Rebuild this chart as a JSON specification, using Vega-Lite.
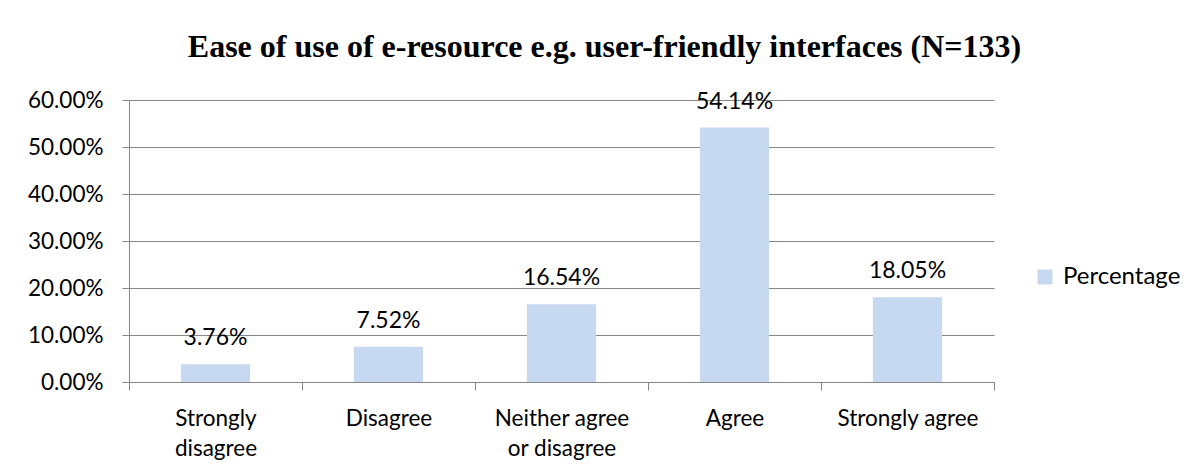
{
  "$schema": "https://vega.github.io/schema/vega-lite/v6.json",
  "autosize": {"type": "none"},
  "padding": {"left": 129, "top": 100, "right": 209, "bottom": 93},
  "width": 865,
  "height": 282,
  "background": "white",
  "title": {
    "text": "Ease of use of e-resource e.g. user-friendly interfaces (N=133)",
    "font": "Liberation Serif",
    "fontSize": 32,
    "fontWeight": "bold",
    "color": "black",
    "anchor": "middle",
    "baseline": "alphabetic",
    "offset": 0,
    "dx": 43
  },
  "data": {
    "values": [
      {"category": "Strongly disagree", "value": 0.0376},
      {"category": "Disagree", "value": 0.0752},
      {"category": "Neither agree or disagree", "value": 0.1654},
      {"category": "Agree", "value": 0.5414},
      {"category": "Strongly agree", "value": 0.1805}
    ]
  },
  "encoding": {
    "x": {
      "field": "category",
      "type": "nominal",
      "sort": null,
      "scale": {"paddingInner": 0, "paddingOuter": 0},
      "axis": {
        "title": null,
        "labelAngle": 0,
        "tickBand": "extent",
        "labelExpr": "datum.label == 'Strongly disagree' ? ['Strongly', 'disagree'] : datum.label == 'Neither agree or disagree' ? ['Neither agree', 'or disagree'] : datum.label",
        "labelFont": "Lato",
        "labelFontSize": 22.5,
        "labelColor": "black",
        "labelLineHeight": 30,
        "labelPadding": 17,
        "tickSize": 8,
        "tickColor": "#868686",
        "domainColor": "#868686",
        "labelLimit": 300
      }
    },
    "y": {
      "field": "value",
      "type": "quantitative",
      "scale": {"domain": [0, 0.6], "nice": false},
      "axis": {
        "title": null,
        "format": ".2%",
        "values": [0, 0.1, 0.2, 0.3, 0.4, 0.5, 0.6],
        "labelFont": "Lato",
        "labelFontSize": 22.5,
        "labelColor": "black",
        "labelPadding": 19,
        "tickSize": 7,
        "tickColor": "#868686",
        "domainColor": "#868686",
        "gridColor": "#868686",
        "grid": true
      }
    }
  },
  "layer": [
    {
      "mark": {"type": "bar", "width": {"band": 0.4}},
      "encoding": {
        "color": {
          "datum": "Percentage",
          "scale": {"range": ["#C6D9F1"]},
          "legend": {
            "title": null,
            "orient": "none",
            "legendX": 904,
            "legendY": 165,
            "symbolType": "square",
            "symbolSize": 225,
            "symbolStrokeWidth": 0,
            "labelFont": "Lato",
            "labelFontSize": 24,
            "labelColor": "black",
            "labelOffset": 6
          }
        }
      }
    },
    {
      "mark": {"type": "text", "font": "Lato", "fontSize": 23, "color": "black", "baseline": "alphabetic", "dy": -19},
      "encoding": {
        "text": {"field": "value", "type": "quantitative", "format": ".2%"}
      }
    }
  ],
  "config": {
    "view": {"stroke": null}
  }
}
